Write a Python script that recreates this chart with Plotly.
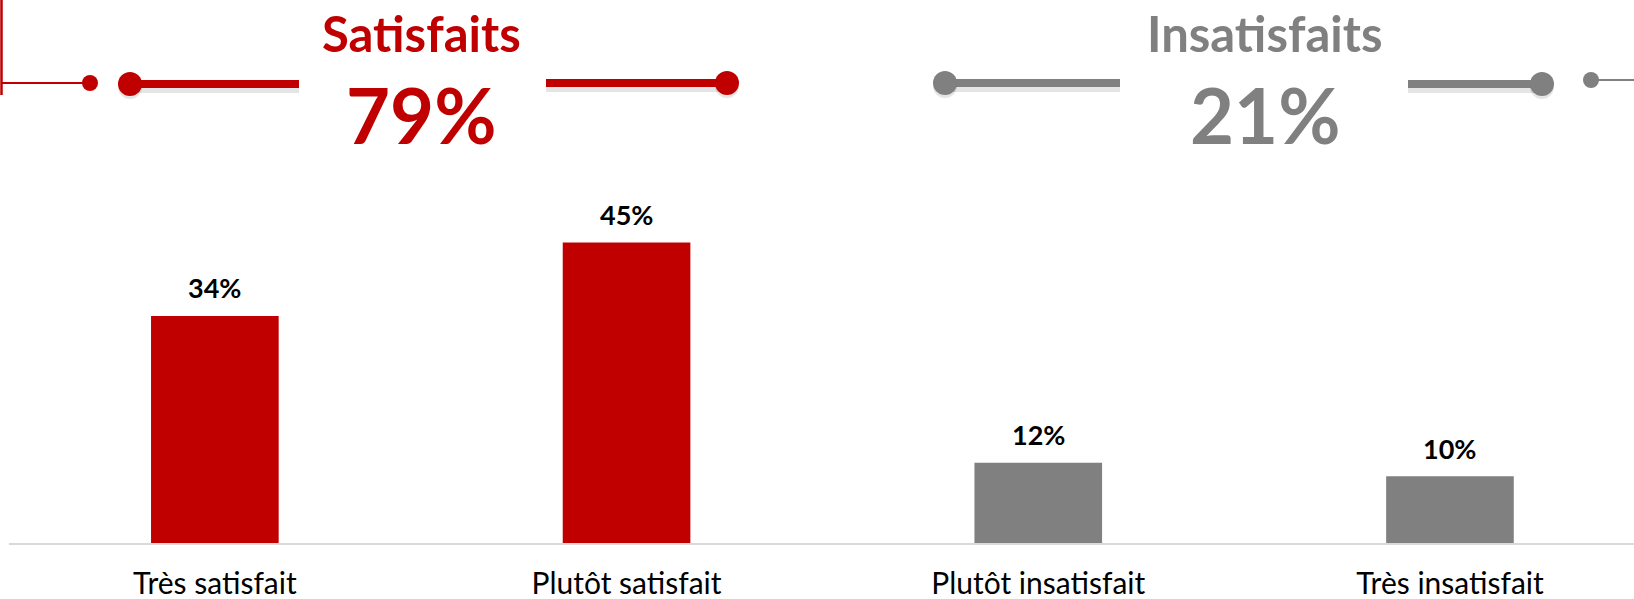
import plotly.graph_objects as go

categories = ["Très satisfait", "Plutôt satisfait", "Plutôt insatisfait", "Très insatisfait"]
values = [34, 45, 12, 10]
bar_colors = ["#C00000", "#C00000", "#808080", "#808080"]
labels = [f"{v}%" for v in values]

group_titles = ["Satisfaits", "Insatisfaits"]
group_totals = ["79%", "21%"]
group_colors = ["#C00000", "#808080"]

RED = "#C00000"
GREY = "#808080"
FONT = "Lato"

# page geometry (pixels) used to place the header decoration
W, H = 1634, 599
L, R, T, B = 9, 0, 0, 56
PW, PH = W - L - R, H - T - B


def fx(px):
    return (px - L) / PW


def fy(py):
    return (H - B - py) / PH


fig = go.Figure()

fig.add_trace(
    go.Bar(
        x=categories,
        y=values,
        width=0.31,
        marker=dict(color=bar_colors, line=dict(width=0)),
        hoverinfo="skip",
    )
)

annotations = []
for cat, v, lab in zip(categories, values, labels):
    annotations.append(
        dict(
            x=cat, y=v, text=f"<b>{lab}</b>", showarrow=False,
            yanchor="middle", yshift=28,
            font=dict(family=FONT, size=27, color="#000000"),
        )
    )

# header texts
title_x = [421, 1265]
for tx, title, total, col in zip(title_x, group_titles, group_totals, group_colors):
    annotations.append(
        dict(
            x=fx(tx), y=fy(33), xref="paper", yref="paper",
            text=f"<b>{title}</b>", showarrow=False,
            xanchor="center", yanchor="middle",
            font=dict(family=FONT, size=49, color=col),
        )
    )
    annotations.append(
        dict(
            x=fx(tx), y=fy(114), xref="paper", yref="paper",
            text=f"<b>{total}</b>", showarrow=False,
            xanchor="center", yanchor="middle",
            font=dict(family=FONT, size=76, color=col),
        )
    )

shapes = []


def hline(x0, x1, y, color, width, shadow=False):
    if shadow:
        shapes.append(dict(
            type="line", xref="paper", yref="paper",
            x0=fx(x0), x1=fx(x1), y0=fy(y + 4), y1=fy(y + 4),
            line=dict(color="rgba(0,0,0,0.10)", width=width + 2),
        ))
    shapes.append(dict(
        type="line", xref="paper", yref="paper",
        x0=fx(x0), x1=fx(x1), y0=fy(y), y1=fy(y),
        line=dict(color=color, width=width),
    ))


def dot(cx, cy, r, color, shadow=False):
    if shadow:
        shapes.append(dict(
            type="circle", xref="paper", yref="paper",
            x0=fx(cx - r), x1=fx(cx + r), y0=fy(cy + 3 + r), y1=fy(cy + 3 - r),
            fillcolor="rgba(0,0,0,0.10)", line=dict(width=0),
        ))
    shapes.append(dict(
        type="circle", xref="paper", yref="paper",
        x0=fx(cx - r), x1=fx(cx + r), y0=fy(cy + r), y1=fy(cy - r),
        fillcolor=color, line=dict(width=0),
    ))


# left bracket
shapes.append(dict(
    type="line", xref="paper", yref="paper",
    x0=fx(1.5), x1=fx(1.5), y0=fy(0), y1=fy(95),
    line=dict(color=RED, width=2.5),
))
hline(1.5, 90, 83, RED, 2)
dot(90, 83, 8, RED)

# satisfaits header lines
hline(130, 299, 84, RED, 8, shadow=True)
dot(130, 84, 12, RED, shadow=True)
hline(546, 727, 83, RED, 8, shadow=True)
dot(727, 83, 12, RED, shadow=True)

# insatisfaits header lines
hline(945, 1120, 83, GREY, 8, shadow=True)
dot(945, 83, 12, GREY, shadow=True)
hline(1408, 1542, 84, GREY, 8, shadow=True)
dot(1542, 84, 12, GREY, shadow=True)

# right bracket
hline(1591, 1640, 80, GREY, 2)
dot(1591, 80, 8, GREY)

fig.update_layout(
    width=W,
    height=H,
    margin=dict(l=L, r=R, t=T, b=B),
    paper_bgcolor="white",
    plot_bgcolor="white",
    showlegend=False,
    annotations=annotations,
    shapes=shapes,
    xaxis=dict(
        range=[-0.5, 3.447],
        showgrid=False,
        zeroline=False,
        showline=True,
        linecolor="#D9D9D9",
        linewidth=2,
        ticks="",
        ticklabelstandoff=13,
        tickfont=dict(family=FONT, size=30, color="#000000"),
        automargin=False,
        fixedrange=True,
    ),
    yaxis=dict(
        range=[0, 81.3],
        visible=False,
        fixedrange=True,
    ),
)

fig.write_html(
    "out.html",
    config={"displayModeBar": False},
    post_script="document.body.style.margin='0px';",
)
